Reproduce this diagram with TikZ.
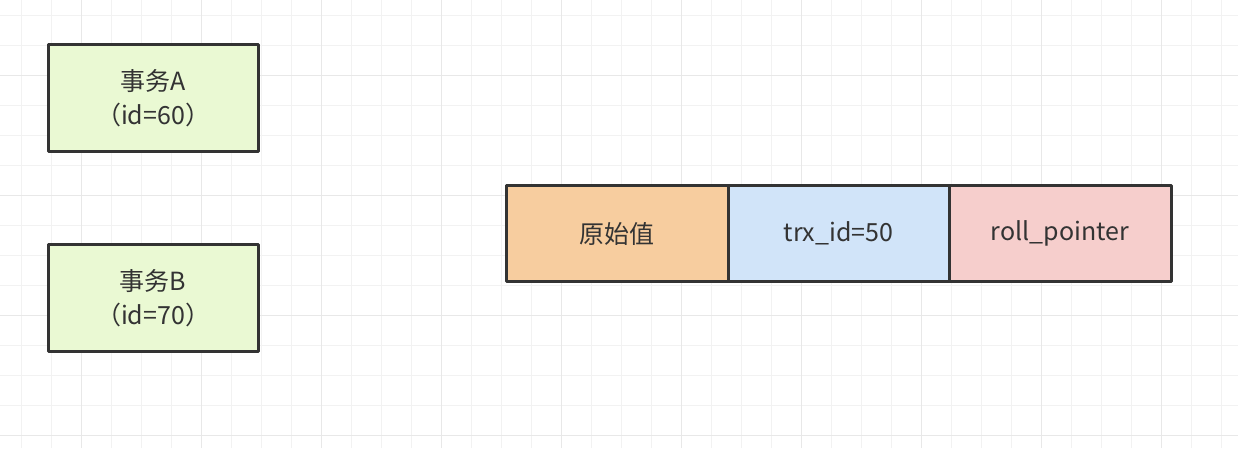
\documentclass[tikz,border=0pt]{standalone}
\usepackage{fontspec}
\setmainfont{Noto Sans CJK SC}
\begin{document}
\begin{tikzpicture}[x=1pt,y=-1pt,
  gridminor/.style={draw=black!5, line width=1.2pt},
  gridmajor/.style={draw=black!9, line width=1.4pt},
  box/.style={draw=darktext, line width=3pt, line join=round, inner sep=0pt,
    text=darktext, font=\fontsize{25}{34}\selectfont, align=center},
]
\definecolor{darktext}{HTML}{333333}
\definecolor{greenfill}{HTML}{EAF9D3}
\definecolor{orangefill}{HTML}{F7CD9F}
\definecolor{bluefill}{HTML}{D1E4F9}
\definecolor{pinkfill}{HTML}{F6CECC}
\useasboundingbox (0,0) rectangle (1238,448);
\fill[white] (0,0) rectangle (1238,448);
% grid
\foreach \x in {21.5,51.5,...,1238} \draw[gridminor] (\x,0) -- (\x,448);
\foreach \y in {15.5,45.5,...,448} \draw[gridminor] (0,\y) -- (1238,\y);
\foreach \x in {81.5,201.5,...,1238} \draw[gridmajor] (\x,0) -- (\x,448);
\foreach \y in {75.5,195.5,...,448} \draw[gridmajor] (0,\y) -- (1238,\y);
% transactions
\node[box, fill=greenfill, minimum width=210, minimum height=107] (ta) at (153,98) {事务A\\（id=60）};
\node[box, fill=greenfill, minimum width=210, minimum height=107] (tb) at (153,298) {事务B\\（id=70）};
% record row
\node[box, fill=orangefill, minimum width=222, minimum height=96] (orig) at (617,233.5) {原始值};
\node[box, fill=bluefill, minimum width=221, minimum height=96] (trx) at (838.5,233.5) {trx\_id=50};
\node[box, fill=pinkfill, minimum width=222, minimum height=96] (roll) at (1060,233.5) {roll\_pointer};
\end{tikzpicture}
\end{document}
